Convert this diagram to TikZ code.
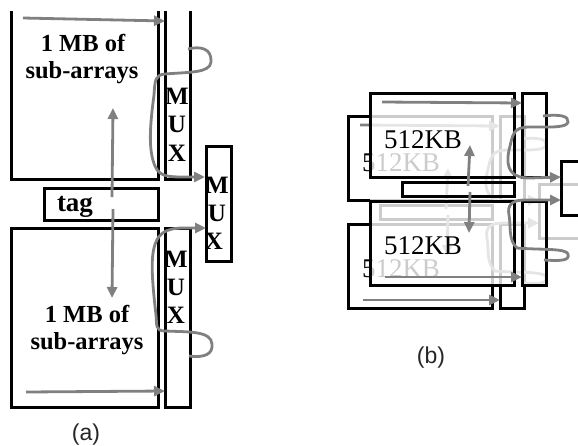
\documentclass[tikz,border=0pt]{standalone}
\usepackage{fontspec}
\setmainfont{Liberation Serif}
\newfontfamily\capfont{Liberation Sans}
\usetikzlibrary{arrows.meta}
\definecolor{wire}{gray}{0.5}
\tikzset{
  boxn/.style={draw=black,line width=3pt,inner sep=0pt,outer sep=0pt,anchor=north west},
  edge/.style={draw=black,line width=3pt,line cap=butt},
  wirel/.style={draw=wire,line width=2.8pt,line cap=butt},
  arr/.style={wirel,-{Triangle[length=11pt,width=10pt]}},
  blab/.style={font=\fontsize{24.5}{24.5}\bfseries\selectfont,inner sep=0pt},
  mlab/.style={font=\fontsize{25}{25}\bfseries\selectfont,inner sep=0pt},
  klab/.style={font=\fontsize{27}{27}\selectfont,inner sep=0pt},
  clab/.style={font=\fontsize{23}{23}\capfont\selectfont,inner sep=0pt,text=black!85}
}
\newcommand{\bx}[5]{\node[boxn,minimum width=#4 pt,minimum height=#5 pt] (#1) at (#2,#3) {};}
% one half-pair of part (b), offset by #1,#2
\newcommand{\quadset}[2]{%
\begin{scope}[shift={(#1,#2)}]
  \bx{b#1top}{370}{93}{144}{84}
  \bx{b#1mt}{522}{93}{24}{84}
  \bx{b#1tag}{402}{182}{112}{14}
  \bx{b#1bot}{370}{201}{144}{84}
  \bx{b#1mb}{522}{201}{24}{84}
  \bx{b#1mux}{561}{161}{40}{54}
  \node[klab] (b#1t1) at (423,140) {512KB};
  \node[klab] (b#1t2) at (423,246) {512KB};
  \draw[arr] (382,102) -- (522,103);
  \draw[wirel,-{Triangle[length=11pt,width=10pt]}] (543,116) .. controls (560,114) and (569,116) .. (568,122)
     .. controls (567,128) and (550,127) .. (530,127)
     .. controls (512,127) and (513,135) .. (509,150)
     .. controls (505,170) and (512,178) .. (530,178) -- (561,177);
  \draw[arr] (468,186) -- (470,145);
  \draw[arr] (470,192) -- (469,233);
  \draw[wirel,-{Triangle[length=11pt,width=10pt]}] (544,260) .. controls (560,261) and (570,261) .. (568,254)
     .. controls (566,248) and (540,250) .. (517,248)
     .. controls (508,240) and (511,225) .. (509,215)
     .. controls (507,205) and (512,200) .. (525,200) -- (561,200);
  \draw[arr] (385,277) -- (522,277);
\end{scope}}
\begin{document}
\begin{tikzpicture}[x=1pt,y=-1pt]
\useasboundingbox (0,0) rectangle (578,445);
\clip (0,0) rectangle (578,445);
% part (a)
\coordinate (tl) at (11,11); \coordinate (tr) at (158,11);
\coordinate (ml) at (165,11); \coordinate (mr) at (190,11);
\draw[edge,line join=miter] (tl) -- (11,179) -- (158,179) -- (tr);
\draw[edge,line join=miter] (ml) -- (165,179) -- (190,179) -- (mr);
\bx{tagbox}{44}{188}{114}{32}
\bx{lowblock}{11}{228}{147}{179}
\bx{lowmux}{165}{228}{25}{179}
\bx{bigmux}{206}{146}{25}{115}
\node[blab] (t1) at (83,43) {1 MB of};
\node[blab] (t2) at (82,73) {sub-arrays};
\node[blab] (t3) at (87,314) {1 MB of};
\node[blab] (t4) at (87,344) {sub-arrays};
\node[font=\fontsize{27}{27}\bfseries\selectfont,inner sep=0pt] (tg) at (75,207) {tag};
\node[mlab] (m1) at (177,96) {M};
\node[mlab] (m2) at (177,124) {U};
\node[mlab] (m3) at (177,153) {X};
\node[mlab] (m4) at (176,259) {M};
\node[mlab] (m5) at (176,287) {U};
\node[mlab] (m6) at (176,315) {X};
\node[mlab] (m7) at (217,185) {M};
\node[mlab] (m8) at (217,213) {U};
\node[mlab] (m9) at (214,241) {X};
\draw[arr] (23,18) -- (165,21);
\draw[wirel,-{Triangle[length=11pt,width=10pt]}] (188,49) .. controls (200,46) and (212,48) .. (211,62)
   .. controls (210,73) and (190,72) .. (165,74)
   .. controls (155,75) and (155,80) .. (154,95)
   .. controls (150,125) and (148,150) .. (155,166)
   .. controls (160,178) and (170,177) .. (205,177);
\draw[arr] (112,197) -- (113,108);
\draw[arr] (113,209) -- (112,298);
\draw[wirel,-{Triangle[length=11pt,width=10pt]}] (189,356) .. controls (205,358) and (213,354) .. (212,344)
   .. controls (211,331) and (190,332) .. (165,331)
   .. controls (155,331) and (157,325) .. (156,315)
   .. controls (152,280) and (150,255) .. (156,242)
   .. controls (162,226) and (180,228) .. (206,228);
\draw[arr] (26,392) -- (165,391);
\node[clab] (cap1) at (86,435) {(a)};
\node[clab] (cap2) at (431,358) {(b)};
% part (b): faded rear layer, veil, front layer
\quadset{-22}{23}
\fill[white,opacity=0.8] (370,93) rectangle (578,285);
\quadset{0}{0}
\end{tikzpicture}
\end{document}
